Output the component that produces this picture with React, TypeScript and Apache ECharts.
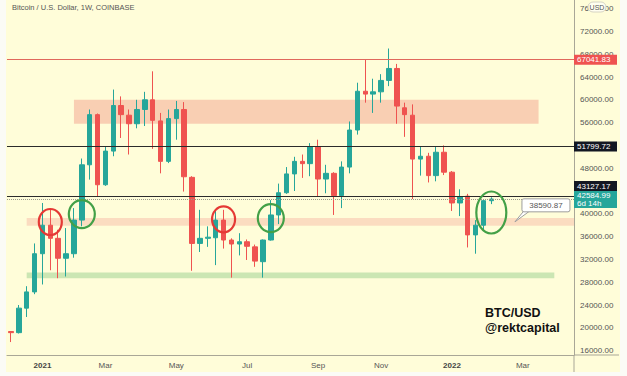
import React, { useEffect, useRef } from "react";
import * as echarts from "echarts";

// ---------- data ----------
const START_WEEK = Date.UTC(2020, 11, 7);
const WEEK_MS = 7 * 86400000;
const SLOT_COUNT = 72;
const weeks: string[] = Array.from({ length: SLOT_COUNT }, (_, i) =>
  new Date(START_WEEK + i * WEEK_MS).toISOString().slice(0, 10)
);

const opens = [
  19350, 19150, 23450, 26300, 33000, 38000, 35700, 32200, 33000, 38900, 48600, 57400,
  45100, 51000, 59000, 57300, 55800, 58300, 60000, 56300, 49200, 56700, 58300, 46400,
  34800, 35700, 35800, 38900, 35400, 34700, 35100, 34200, 31600, 35400, 39800, 43700,
  47000, 49200, 48800, 51800, 46100, 47100, 43200, 48200, 54700, 61500, 61000, 61400,
  63400, 65500, 58600, 57300, 49600, 50100, 46700, 50800, 47300, 41900, 43100, 36300,
  38000, 42300,
];
const highs = [
  19400, 24000, 27300, 34800, 41900, 40700, 37200, 37500, 41000, 49700, 58300, 57600,
  51800, 61800, 60600, 58300, 60000, 61400, 65000, 57700, 58300, 59800, 59600, 46600,
  40700, 37800, 40700, 40700, 35700, 36600, 35500, 34600, 35500, 42400, 45300, 48200,
  50000, 50400, 52400, 53000, 48600, 47300, 49200, 56200, 63000, 67040, 63700, 64500,
  69000, 66300, 59500, 59200, 51800, 50700, 51800, 52000, 47500, 44300, 43500, 38900,
  42600, 42900,
];
const lows = [
  17500, 19000, 21900, 25900, 27600, 30100, 28700, 29000, 32300, 37800, 46000, 43000,
  44900, 50100, 53300, 50400, 55000, 55400, 51400, 47100, 48900, 53000, 43900, 30000,
  33300, 34200, 31000, 33900, 28800, 32700, 31900, 30700, 28800, 35300, 38200, 43500,
  44000, 46300, 46600, 43000, 43600, 39800, 41000, 47100, 53900, 59500, 57700, 59500,
  62400, 55800, 53500, 42600, 46700, 45500, 45700, 46800, 40500, 39600, 34100, 33000,
  37100, 41700,
];
const closes = [
  19150, 23450, 26300, 33000, 38000, 35700, 32200, 33000, 38900, 48600, 57400, 45100,
  51000, 59000, 57400, 55800, 58300, 60000, 56400, 49200, 56700, 58300, 46500, 34800,
  35700, 35900, 38900, 35400, 34700, 35100, 34300, 31700, 35400, 39800, 43700, 47000,
  49200, 48800, 51800, 46100, 47100, 43200, 48200, 54700, 61500, 61000, 61400, 63400,
  65500, 58900, 57400, 49600, 50100, 46700, 50800, 47300, 41900, 43000, 36300, 38000,
  42300, 42584.99,
];

const xTickLabels: Record<string, string> = {
  "2021-01-04": "2021",
  "2021-03-01": "Mar",
  "2021-05-03": "May",
  "2021-07-05": "Jul",
  "2021-09-06": "Sep",
  "2021-11-01": "Nov",
  "2022-01-03": "2022",
  "2022-03-07": "Mar",
};
// 44000 and 52000 are hidden behind the price badges in the reference
const yTicks = [16000, 20000, 24000, 28000, 32000, 36000, 40000, 48000, 56000, 60000, 64000, 68000, 72000, 76000];

const resistanceHigh = 67041.83;
const levelMid = 51799.72;
const levelLow = 43127.17;
const lastPrice = 42584.99;
const calloutValue = 38590.87;

// zones: [startWeekIndex, endWeekIndex | null (to edge), low, high]
const supplyZone = [8, 67, 55800, 60000];
const supportZone = [2, null, 37900, 39250];
const greenZone = [2, 69, 28700, 29700];

// annotations: [weekIndex, price]
const redRings = [[4.54, 38560], [26.55, 39030]];
const greenRings = [[8.52, 39960], [33.4, 39260]];
const bigRing = [61.2, 40230];
const calloutTip = [63.8, calloutValue];

// ---------- layout ----------
const W = 627;
const H = 376;
const GRID = { left: 7, right: 53, top: 0, bottom: 21 };
const FONT = '"Liberation Sans", Arial, sans-serif';
const BG = "#fffdd9";
const UP = "#26a69a";
const DOWN = "#ef5350";

export default function App() {
  const ref = useRef<HTMLDivElement>(null);

  useEffect(() => {
    const el = ref.current!;
    const chart = echarts.init(el, null, { renderer: "svg" });

    const candles = opens.map((o, i) => [o, closes[i], lows[i], highs[i]]);

    const zone = (z: any[], color: string) => {
      const a: any = { yAxis: z[2], xAxis: weeks[z[0]], itemStyle: { color } };
      const b: any = { yAxis: z[3] };
      if (z[1] != null) b.xAxis = weeks[z[1]];
      return [a, b];
    };

    chart.setOption({
      animation: false,
      backgroundColor: BG,
      textStyle: { fontFamily: FONT },
      grid: { ...GRID, containLabel: false },
      xAxis: {
        type: "category",
        data: weeks,
        boundaryGap: true,
        axisLine: { show: true, lineStyle: { color: "#a9a797", width: 1 } },
        axisTick: { show: false },
        splitLine: { show: false },
        axisLabel: {
          interval: (_i: number, v: string) => v in xTickLabels,
          formatter: (v: string) => {
            const t = xTickLabels[v] || "";
            return /^\d{4}$/.test(t) ? `{y|${t}}` : t;
          },
          margin: 6,
          fontSize: 8,
          color: "#555",
          fontFamily: FONT,
          rich: { y: { fontWeight: "bold", fontSize: 8, color: "#444", fontFamily: FONT } },
        },
      },
      yAxis: {
        type: "value",
        position: "right",
        min: 15230,
        max: 77510,
        scale: true,
        splitLine: { show: false },
        axisLine: { show: true, lineStyle: { color: "#a9a797", width: 1 } },
        axisTick: { show: false },
        axisLabel: {
          customValues: yTicks,
          formatter: (v: number) => v.toFixed(2),
          fontSize: 8,
          color: "#555",
          margin: 6,
          fontFamily: FONT,
        },
      },
      series: [
        {
          type: "candlestick",
          data: candles,
          barWidth: 5,
          itemStyle: { color: UP, color0: DOWN, borderColor: UP, borderColor0: DOWN, borderWidth: 1 },
          markArea: {
            silent: true,
            data: [
              zone(supplyZone, "#f9cfb3"),
              zone(supportZone, "#fbdcc0"),
              zone(greenZone, "#cbe6b3"),
            ],
          },
          markLine: {
            silent: true,
            symbol: ["none", "none"],
            label: { show: false },
            data: [
              { yAxis: resistanceHigh, lineStyle: { color: "#e0685c", width: 1, type: "solid" } },
              { yAxis: levelMid, lineStyle: { color: "#2b2b2b", width: 1, type: "solid" } },
              { yAxis: levelLow, lineStyle: { color: "#2b2b2b", width: 1, type: "solid" } },
              { yAxis: lastPrice, lineStyle: { color: "#9a9a8a", width: 1, type: "dotted" } },
            ],
          },
        },
      ],
    });

    const px = (i: number, v: number) => chart.convertToPixel({ gridIndex: 0 }, [i, v]) as number[];
    const gridRight = W - GRID.right;
    const gridBottom = H - GRID.bottom;

    const txt = (x: number, y: number, text: string, size: number, fill: string, align = "left", weight = "normal", z = 25) => ({
      type: "text",
      x,
      y,
      silent: true,
      z,
      style: {
        text,
        fill,
        fontSize: size,
        fontFamily: FONT,
        fontWeight: weight,
        align,
        verticalAlign: "middle",
        textAlign: align,
        textVerticalAlign: "middle",
      },
    });

    const badge = (top: number, h: number, bg: string, lines: string[]) => {
      const els: any[] = [
        { type: "rect", silent: true, z: 19, shape: { x: gridRight, y: top, width: 43, height: h }, style: { fill: bg } },
      ];
      const step = h / lines.length;
      lines.forEach((l, k) => els.push(txt(gridRight + 3, top + step * (k + 0.5), l, 8, "#fff")));
      return els;
    };

    const ring = (c: number[], rx: number, ry: number, color: string) => {
      const p = px(c[0], c[1]);
      return {
        type: "ellipse",
        silent: true,
        z: 15,
        shape: { cx: p[0], cy: p[1], rx, ry },
        style: { fill: "none", stroke: color, lineWidth: 2.2 },
      };
    };

    const yHigh = px(0, resistanceHigh)[1];
    const yMid = px(0, levelMid)[1];
    const yLast = px(0, lastPrice)[1];
    const tealTop = yLast - 8;
    const tip = px(calloutTip[0], calloutTip[1]);
    const boxX = tip[0] + 7;
    const boxY = tip[1] - 23;

    const graphics: any[] = [
      // page border strips
      { type: "rect", silent: true, z: 30, shape: { x: 0, y: 0, width: 6, height: H }, style: { fill: "#fbfbf6" } },
      { type: "rect", silent: true, z: 30, shape: { x: 620, y: 0, width: 7, height: H }, style: { fill: "#fbfbf6" } },
      { type: "rect", silent: true, z: 30, shape: { x: 0, y: 372, width: W, height: 4 }, style: { fill: "#fbfbf6" } },
      // axis extensions
      { type: "line", silent: true, z: 18, shape: { x1: gridRight, y1: gridBottom, x2: 619, y2: gridBottom }, style: { stroke: "#a9a797", lineWidth: 1 } },
      { type: "line", silent: true, z: 18, shape: { x1: gridRight, y1: gridBottom, x2: gridRight, y2: 372 }, style: { stroke: "#a9a797", lineWidth: 1 } },
      // title
      txt(12, 7, "Bitcoin / U.S. Dollar, 1W, COINBASE", 7.5, "#555"),
      // USD pill
      { type: "rect", silent: true, z: 21, shape: { x: 588, y: 2, width: 18, height: 10, r: 5 }, style: { fill: "#fffef0", stroke: "#d6d4c4", lineWidth: 1 } },
      txt(597, 7, "USD", 7, "#555", "center", "normal", 26),
      // price badges
      ...badge(yHigh - 5, 10, "#ef5350", [resistanceHigh.toFixed(2)]),
      ...badge(yMid - 5, 10, "#131722", [levelMid.toFixed(2)]),
      ...badge(tealTop - 10, 10, "#131722", [levelLow.toFixed(2)]),
      ...badge(tealTop, 17, UP, [lastPrice.toFixed(2), "6d 14h"]),
      // rings
      ...redRings.map((c) => ring(c, 11.5, 13, "#e53935")),
      ...greenRings.map((c) => ring(c, 13, 14, "#43a047")),
      ring(bigRing, 15, 21, "#43a047"),
      // callout
      {
        type: "polygon",
        silent: true,
        z: 16,
        shape: { points: [[tip[0], tip[1]], [boxX + 2, boxY + 12], [boxX + 8, boxY + 12]] },
        style: { fill: "#ffffff", stroke: "#9e9e9e", lineWidth: 1 },
      },
      {
        type: "rect",
        silent: true,
        z: 17,
        shape: { x: boxX, y: boxY, width: 48, height: 13, r: 2 },
        style: { fill: "#ffffff", stroke: "#9e9e9e", lineWidth: 1 },
      },
      txt(boxX + 24, boxY + 6.5, calloutValue.toFixed(2), 8, "#555", "center"),
      // signature
      txt(485, 313, "BTC/USD", 12.5, "#111", "left", "bold"),
      txt(485, 328, "@rektcapital", 12.5, "#111", "left", "bold"),
    ];

    chart.setOption({ graphic: graphics });

    return () => chart.dispose();
  }, []);

  return (
    <div
      ref={ref}
      style={{ position: "absolute", left: 0, top: 0, width: W, height: H }}
    />
  );
}
